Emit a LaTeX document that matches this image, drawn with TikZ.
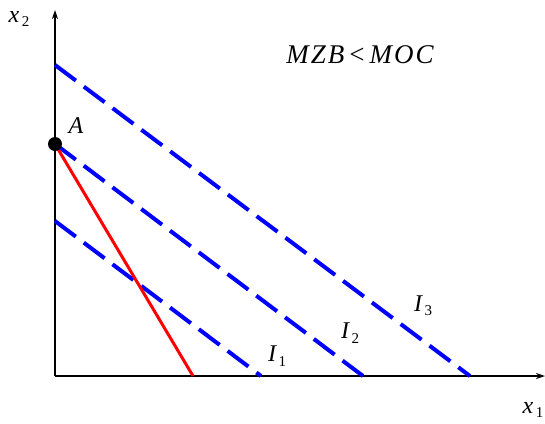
\documentclass[tikz,border=0pt]{standalone}
\usepackage{fontspec}
\setmainfont{Liberation Serif}
\usetikzlibrary{arrows.meta}
\begin{document}
\begin{tikzpicture}[x=1pt,y=-1pt,
  axis/.style={line width=2pt,-{Stealth[length=9pt,width=6pt]}},
  indiff/.style={blue,line width=4pt,dash pattern=on 26pt off 10pt},
  budget/.style={red,line width=3pt},
  lbl/.style={font=\fontsize{24}{28}\selectfont\itshape,inner sep=0pt}]
\newcommand{\subnum}[1]{\raisebox{-0.4ex}{\fontsize{15}{15}\selectfont\upshape\,#1}}
\useasboundingbox (0,0) rectangle (545,423);
\coordinate (O) at (55,376);
\coordinate (Ytop) at (55,10);
\coordinate (Xend) at (545,376);
\coordinate (A) at (55,144);
\coordinate (R) at (193,376);
\coordinate (I1s) at (55,221);
\coordinate (I1e) at (261,376);
\coordinate (I2e) at (363,376);
\coordinate (I3s) at (55,65);
\coordinate (I3e) at (470,376);
\draw[axis] (O) -- (Ytop);
\draw[axis] (O) -- (Xend);
\draw[indiff] (I3s) -- (I3e);
\draw[indiff] (A) -- (I2e);
\draw[indiff] (I1s) -- (I1e);
\draw[budget] (A) -- (R);
\fill (A) circle (7pt);
\node[lbl] (lA) at (76,126) {A};
\node[lbl] (lx2) at (19,19) {x\subnum{2}};
\node[lbl] (lx1) at (533,410) {x\subnum{1}};
\node[lbl] (l1) at (277,356) {I\subnum{1}};
\node[lbl] (l2) at (350,333) {I\subnum{2}};
\node[lbl] (l3) at (423,306) {I\subnum{3}};
\node[lbl,font=\fontsize{27}{31}\selectfont\itshape] (t) at (360,55) {M\hspace{2pt}Z\hspace{2pt}B\hspace{5pt}\upshape<\hspace{5pt}\itshape M\hspace{2pt}O\hspace{2pt}C};
\end{tikzpicture}
\end{document}
